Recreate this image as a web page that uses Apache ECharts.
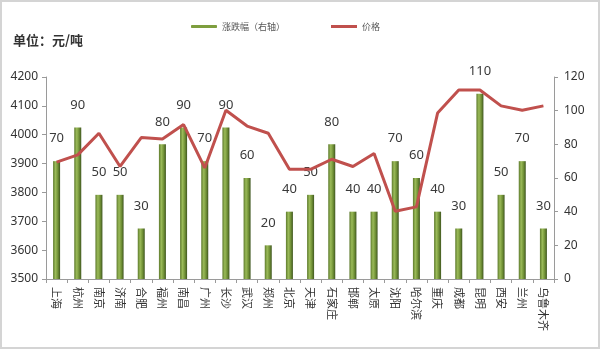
<!DOCTYPE html>
<html>
<head>
<meta charset="utf-8">
<script src="https://cdn.jsdelivr.net/npm/echarts@6/dist/echarts.min.js"></script>
<style>
  html, body { margin: 0; padding: 0; background: #fff; }
  #chart { width: 600px; height: 349px; box-sizing: border-box; border: 2px solid #d4d4d4; }
</style>
</head>
<body>
<div id="chart"></div>
<script>
// Cities along the category axis
var cities = ['上海', '杭州', '南京', '济南', '合肥', '福州', '南昌', '广州', '长沙', '武汉', '郑州', '北京',
              '天津', '石家庄', '邯郸', '太原', '沈阳', '哈尔滨', '重庆', '成都', '昆明', '西安', '兰州', '乌鲁木齐'];

// Change (right axis)
var changeValues = [70, 90, 50, 50, 30, 80, 90, 70, 90, 60, 20, 40,
                    50, 80, 40, 40, 70, 60, 40, 30, 110, 50, 70, 30];

// Price, yuan/ton (left axis)
var priceValues = [3905, 3930, 4005, 3890, 3990, 3985, 4035, 3885, 4085, 4030, 4005, 3880,
                   3880, 3915, 3890, 3935, 3735, 3750, 4075, 4155, 4155, 4100, 4085, 4100];

var leftTicks = { min: 3500, max: 4200, interval: 100 };
var rightTicks = { min: 0, max: 120, interval: 20 };

var FONT = "'Noto Sans', 'Noto Sans CJK SC', sans-serif";
var CJK = "'Noto Sans CJK SC', sans-serif";

var chart = echarts.init(document.getElementById('chart'));

var barFill = new echarts.graphic.LinearGradient(0, 0, 1, 0, [
  { offset: 0, color: '#5d7a2c' },
  { offset: 0.35, color: '#9bbb59' },
  { offset: 0.7, color: '#6f8f35' },
  { offset: 1, color: '#3f5620' }
]);

chart.setOption({
  animation: false,
  textStyle: { fontFamily: FONT },
  title: {
    text: '单位：元/吨',
    left: 6,
    top: 27,
    textStyle: { fontFamily: CJK, fontSize: 13, fontWeight: 'bold', color: '#333' }
  },
  legend: {
    top: 15,
    left: 184,
    itemGap: 46,
    itemWidth: 26,
    itemHeight: 3,
    textStyle: { fontFamily: CJK, fontSize: 9, color: '#555' },
    data: [
      { name: '涨跌幅（右轴）', icon: 'roundRect', itemStyle: { color: '#7e9e3e' } },
      { name: '价格', icon: 'rect', itemStyle: { color: '#c0504d' } }
    ]
  },
  grid: { left: 44, right: 44, top: 75, bottom: 68 },
  xAxis: {
    type: 'category',
    data: cities,
    axisLine: { lineStyle: { color: '#9a9a9a', width: 1 } },
    axisTick: { show: true, length: 4, lineStyle: { color: '#9a9a9a' } },
    axisLabel: {
      rotate: -90,
      interval: 0,
      margin: 8,
      fontFamily: CJK,
      fontSize: 11,
      color: '#333'
    }
  },
  yAxis: [
    {
      type: 'value',
      min: leftTicks.min,
      max: leftTicks.max,
      interval: leftTicks.interval,
      axisLine: { show: true, lineStyle: { color: '#9a9a9a' } },
      axisTick: { show: true, length: 4, lineStyle: { color: '#9a9a9a' } },
      axisLabel: { fontSize: 12, color: '#333', margin: 8, formatter: function (v) { return String(v); } },
      splitLine: { show: false }
    },
    {
      type: 'value',
      min: rightTicks.min,
      max: rightTicks.max,
      interval: rightTicks.interval,
      axisLine: { show: true, lineStyle: { color: '#9a9a9a' } },
      axisTick: { show: true, length: 4, lineStyle: { color: '#9a9a9a' } },
      axisLabel: { fontSize: 12, color: '#333', margin: 10 },
      splitLine: { show: false }
    }
  ],
  series: [
    {
      name: '涨跌幅（右轴）',
      type: 'bar',
      yAxisIndex: 1,
      data: changeValues,
      barWidth: 7,
      itemStyle: { color: barFill },
      label: {
        show: true,
        position: 'top',
        distance: 16,
        fontSize: 13,
        color: '#3a3a3a'
      },
      z: 2
    },
    {
      name: '价格',
      type: 'line',
      yAxisIndex: 0,
      data: priceValues,
      symbol: 'none',
      lineStyle: { color: '#c0504d', width: 3 },
      itemStyle: { color: '#c0504d' },
      z: 3
    }
  ]
});
</script>
</body>
</html>
